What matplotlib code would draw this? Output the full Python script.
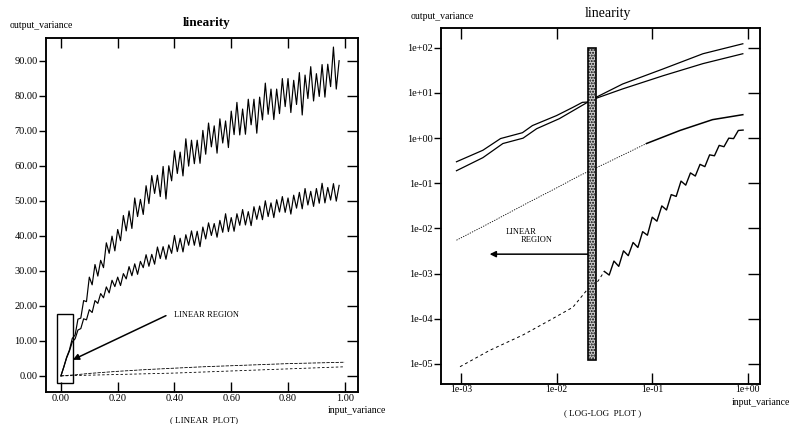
import numpy as np
import matplotlib
matplotlib.use('Agg')
import matplotlib.pyplot as plt
from matplotlib.patches import Rectangle
from matplotlib.ticker import FixedLocator, FixedFormatter

plt.rcParams['font.family'] = ['Liberation Serif', 'DejaVu Serif']

# ---------------- LINEAR PLOT data ----------------
lin_x = np.round(np.arange(0, 0.985, 0.01), 2)
lin_upper = [0, 2.5, 5.3, 7.4, 10.7, 11.7, 16.2, 16.5, 21.5, 21.2,
             28.2, 26.0, 31.8, 28.5, 33.0, 30.9, 38.0, 35.0, 39.9, 35.7,
             41.8, 38.6, 45.8, 41.4, 47.1, 42.1, 50.8, 45.5, 50.4, 46.1,
             54.3, 49.2, 57.2, 52.1, 57.3, 51.2, 59.8, 50.5, 60.0, 55.7,
             64.3, 57.8, 63.9, 57.1, 67.7, 59.9, 67.3, 60.6, 67.3, 60.7,
             70.1, 63.3, 72.2, 65.4, 71.4, 63.6, 73.4, 66.5, 72.8, 65.2,
             75.6, 68.9, 78.1, 68.8, 76.2, 69.0, 79.0, 71.7, 79.0, 69.3,
             79.6, 73.1, 83.6, 74.7, 81.9, 73.2, 81.9, 74.9, 84.9, 76.9,
             84.9, 75.2, 84.4, 77.5, 86.6, 74.5, 85.9, 79.2, 88.3, 78.5,
             86.3, 79.8, 88.9, 79.6, 89.0, 82.6, 93.9, 81.9, 90.0]
lin_lower = [0, 2.5, 5.1, 7.1, 9.7, 10.6, 13.1, 13.5, 16.3, 16.0,
             18.9, 18.1, 21.5, 20.7, 23.5, 22.3, 25.4, 23.7, 27.3, 25.5,
             28.2, 25.8, 29.2, 27.7, 31.2, 28.6, 32.0, 29.0, 32.7, 30.9,
             34.6, 31.3, 34.7, 31.9, 36.8, 33.5, 36.9, 33.3, 37.4, 35.0,
             40.1, 35.5, 39.3, 35.4, 40.3, 37.3, 41.4, 37.3, 41.3, 36.9,
             42.5, 39.1, 43.7, 40.1, 43.5, 39.6, 44.4, 41.0, 46.3, 41.2,
             45.2, 41.3, 46.3, 43.0, 47.5, 43.1, 46.9, 42.9, 48.3, 44.7,
             48.5, 44.6, 50.0, 45.5, 49.4, 45.2, 50.3, 46.8, 51.2, 46.7,
             50.8, 46.2, 51.6, 47.9, 52.4, 47.7, 53.5, 48.8, 52.7, 48.4,
             53.5, 49.3, 55.0, 49.4, 53.8, 50.2, 54.9, 49.9, 54.4]
lin_low_x = [0, 0.05, 0.1, 0.2, 0.3, 0.4, 0.5, 0.6, 0.7, 0.8, 0.9, 1.0]
lin_low_c = [0, 0.3, 0.7, 1.3, 1.8, 2.2, 2.6, 2.9, 3.2, 3.5, 3.7, 3.9]
lin_low_d = [0, 0.1, 0.2, 0.4, 0.6, 0.8, 1.1, 1.4, 1.7, 2.0, 2.3, 2.6]
lin_xticks = [0.0, 0.2, 0.4, 0.6, 0.8, 1.0]
lin_xlabels = ['0.00', '0.20', '0.40', '0.60', '0.80', '1.00']
lin_yticks = [0, 10, 20, 30, 40, 50, 60, 70, 80, 90]
lin_ylabels = ['0.00', '10.00', '20.00', '30.00', '40.00', '50.00',
               '60.00', '70.00', '80.00', '90.00']

# ---------------- LOG-LOG PLOT data ----------------
log_a_x = [0.0009, 0.0017, 0.0026, 0.0044, 0.0056, 0.010, 0.0148, 0.0186,
           0.021, 0.024, 0.049, 0.129, 0.339, 0.885]
log_a_y = [0.30, 0.54, 0.98, 1.32, 1.9, 3.16, 4.8, 6.2, 6.3, 7.4, 15.8,
           33.9, 74, 123]
log_b_x = [0.0009, 0.0017, 0.00275, 0.00447, 0.0062, 0.0107, 0.0162, 0.021,
           0.024, 0.049, 0.129, 0.339, 0.885]
log_b_y = [0.19, 0.37, 0.76, 1.0, 1.62, 2.7, 4.5, 6.2, 7.2, 12.3, 24, 44.7, 74]
log_c_x = [0.0009, 0.002, 0.005, 0.01, 0.0174, 0.0347, 0.087, 0.195, 0.427, 0.885]
log_c_y = [0.0055, 0.0132, 0.037, 0.079, 0.148, 0.295, 0.76, 1.48, 2.57, 3.31]
log_d_dash_x = [0.00098, 0.0020, 0.00447, 0.0085, 0.0148, 0.0209, 0.0263, 0.0316]
log_d_dash_y = [8.7e-6, 2.0e-5, 4.4e-5, 9.3e-5, 1.8e-4, 4.4e-4, 6.2e-4, 1.12e-3]
log_d_noisy_x = [0.0316, 0.0355, 0.0398, 0.0447, 0.0501, 0.0562, 0.0631, 0.0708,
                 0.0794, 0.0891, 0.1, 0.112, 0.126, 0.141, 0.158, 0.178, 0.200,
                 0.224, 0.251, 0.282, 0.316, 0.355, 0.398, 0.447, 0.501, 0.562,
                 0.631, 0.708, 0.794, 0.891]
log_d_noisy_y = [1.12e-3, 9.3e-4, 1.9e-3, 1.45e-3, 3.2e-3, 2.5e-3, 4.9e-3, 3.8e-3,
                 8.5e-3, 7.1e-3, 0.0178, 0.0145, 0.0316, 0.0257, 0.0562, 0.0513,
                 0.112, 0.0912, 0.170, 0.145, 0.263, 0.234, 0.427, 0.407, 0.692,
                 0.646, 1.00, 0.977, 1.48, 1.51]
log_xticks = [1e-3, 1e-2, 1e-1, 1e0]
log_xlabels = ['1e-03', '1e-02', '1e-01', '1e+00']
log_yticks = [1e-5, 1e-4, 1e-3, 1e-2, 1e-1, 1e0, 1e1, 1e2]
log_ylabels = ['1e-05', '1e-04', '1e-03', '1e-02', '1e-01', '1e+00', '1e+01', '1e+02']

fig = plt.figure(figsize=(7.91, 4.24), dpi=100)

# ================= LEFT: linear plot =================
axL = fig.add_axes([0.058, 0.0755, 0.3944, 0.835])
axL.plot(lin_x, lin_upper, color='black', lw=0.85)
axL.plot(lin_x, lin_lower, color='black', lw=0.85)
axL.plot(lin_low_x, lin_low_c, color='black', lw=0.6, ls=(0, (4, 1.5)))
axL.plot(lin_low_x, lin_low_d, color='black', lw=0.6, ls=(0, (3, 2.5)))
axL.set_xlim(-0.053, 1.046)
axL.set_ylim(-4.6, 96.5)
axL.add_patch(Rectangle((-0.014, -2.0), 0.056, 19.8, fill=False,
                        edgecolor='black', lw=1.0))
axL.annotate('', xy=(0.042, 4.6), xytext=(0.37, 17.2),
             arrowprops=dict(arrowstyle='-|>', color='black', lw=1.1,
                             mutation_scale=9, shrinkA=0, shrinkB=0))
axL.text(0.398, 17.5, 'LINEAR REGION', fontsize=6, ha='left', va='center')
axL.xaxis.set_major_locator(FixedLocator(lin_xticks))
axL.xaxis.set_major_formatter(FixedFormatter(lin_xlabels))
axL.yaxis.set_major_locator(FixedLocator(lin_yticks))
axL.yaxis.set_major_formatter(FixedFormatter(lin_ylabels))
axL.tick_params(axis='x', direction='in', length=7, width=1, top=True,
                bottom=True, labelsize=7.5, pad=1.5)
axL.tick_params(axis='y', direction='out', length=5, width=1, pad=1,
                labelsize=7.5)
axL2 = axL.twinx()
axL2.set_ylim(axL.get_ylim())
axL2.yaxis.set_major_locator(FixedLocator(lin_yticks))
axL2.tick_params(axis='y', direction='in', length=8, width=1, labelright=False)
for a in (axL, axL2):
    for s in a.spines.values():
        s.set_linewidth(1.1)

fig.text(0.2617, 0.9458, 'linearity', fontsize=9.5, fontweight='bold',
         ha='center', va='center')
fig.text(0.0126, 0.941, 'output_variance', fontsize=7, ha='left', va='center')
fig.text(0.4147, 0.033, 'input_variance', fontsize=7, ha='left', va='center')
fig.text(0.2585, 0.009, '( LINEAR  PLOT)', fontsize=6.5, ha='center', va='center')

# ================= RIGHT: log-log plot =================
axR = fig.add_axes([0.5575, 0.0943, 0.403, 0.8397])
axR.set_xscale('log')
axR.set_yscale('log')
axR.plot(log_a_x, log_a_y, color='black', lw=0.9)
axR.plot(log_b_x, log_b_y, color='black', lw=0.9)
axR.plot(log_c_x[:7], log_c_y[:7], color='black', lw=0.6, ls=(0, (1.5, 1.5)))
axR.plot(log_c_x[6:], log_c_y[6:], color='black', lw=1.1)
axR.plot(log_d_dash_x, log_d_dash_y, color='black', lw=0.7, ls=(0, (3, 3)))
axR.plot(log_d_noisy_x, log_d_noisy_y, color='black', lw=1.0)
axR.set_xlim(6.2e-4, 1.33)
axR.set_ylim(3.6e-6, 275)
axR.add_patch(Rectangle((0.0212, 1.2e-5), 0.0257 - 0.0212, 100 - 1.2e-5,
                        facecolor='#cfcfcf', edgecolor='black', lw=1.2,
                        hatch='......', zorder=5))
axR.annotate('', xy=(0.0020, 2.7e-3), xytext=(0.0212, 2.7e-3),
             arrowprops=dict(arrowstyle='-|>', color='black', lw=1.1,
                             mutation_scale=9, shrinkA=0, shrinkB=0))
axR.text(0.00293, 0.0083, 'LINEAR', fontsize=6, ha='left', va='center')
axR.text(0.00424, 0.0056, 'REGION', fontsize=6, ha='left', va='center')
axR.xaxis.set_major_locator(FixedLocator(log_xticks))
axR.xaxis.set_major_formatter(FixedFormatter(log_xlabels))
axR.yaxis.set_major_locator(FixedLocator(log_yticks))
axR.yaxis.set_major_formatter(FixedFormatter(log_ylabels))
axR.minorticks_off()
axR.tick_params(axis='x', direction='in', length=8, width=1, top=True,
                bottom=True, labelsize=7, pad=0.5)
axR.tick_params(axis='y', direction='out', length=5, width=1, pad=1,
                labelsize=7.5)
axR2 = axR.twinx()
axR2.set_yscale('log')
axR2.set_ylim(axR.get_ylim())
axR2.yaxis.set_major_locator(FixedLocator(log_yticks))
axR2.minorticks_off()
axR2.tick_params(axis='y', direction='in', length=9, width=1, labelright=False)
for a in (axR, axR2):
    for s in a.spines.values():
        s.set_linewidth(1.1)

fig.text(0.7687, 0.969, 'linearity', fontsize=10, ha='center', va='center')
fig.text(0.5196, 0.96, 'output_variance', fontsize=7, ha='left', va='center')
fig.text(0.9254, 0.050, 'input_variance', fontsize=7, ha='left', va='center')
fig.text(0.762, 0.026, '( LOG-LOG  PLOT )', fontsize=6.5, ha='center', va='center')

fig.savefig('out.png', dpi=100)
